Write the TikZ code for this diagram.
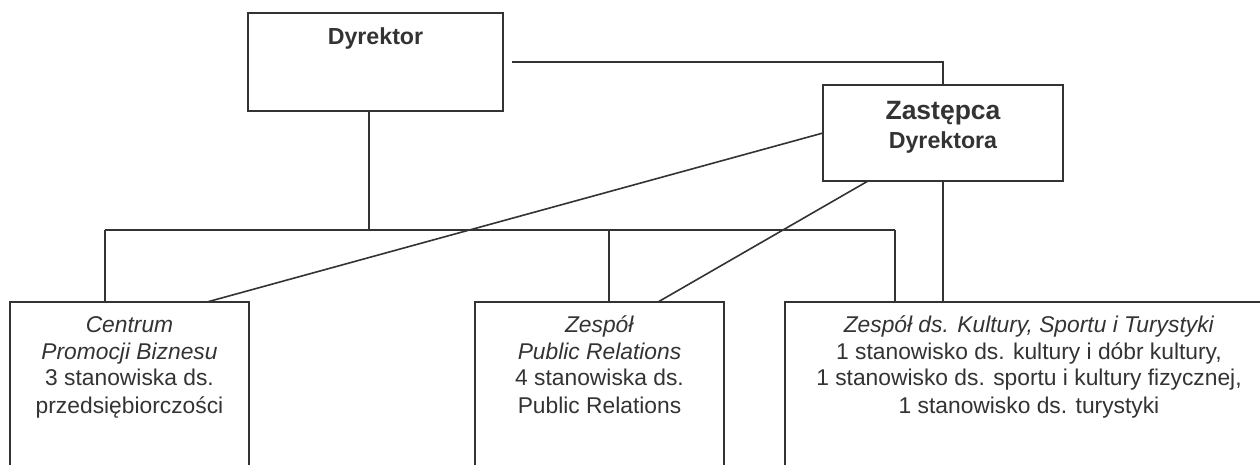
\documentclass[tikz,border=0pt]{standalone}
\usepackage{fontspec}
\setmainfont{Liberation Sans}
\definecolor{ink}{HTML}{333333}
\begin{document}
\begin{tikzpicture}[x=0.5pt,y=-0.5pt,
  box/.style={draw=ink, line width=0.8pt, rectangle, inner sep=0pt, outer sep=0pt},
  lbl/.style={align=center, inner sep=0pt, anchor=base, text=ink,
    font=\fontsize{11.4}{13.5}\selectfont},
  link/.style={draw=ink, line width=0.8pt}]
\useasboundingbox (0,0) rectangle (1260,465);
\fill[white] (0,0) rectangle (1260,465);
\begin{scope}
\clip (0,0) rectangle (1260,465);
% boxes
\node[box, minimum width=127.5pt, minimum height=49pt] (dyr) at (375.5,62) {};
\node[box, minimum width=120pt, minimum height=48pt] (zast) at (943,133) {};
\node[box, minimum width=119.5pt, minimum height=89pt] (cen) at (129.5,391) {};
\node[box, minimum width=124.5pt, minimum height=89pt] (pr) at (599.5,391) {};
\node[box, minimum width=244pt, minimum height=89pt] (kul) at (1029,391) {};
% coordinates
\coordinate (dyrR) at ([xshift=4.5pt]dyr.east);
\coordinate (dyrB) at ([xshift=-3.25pt]dyr.south);
\coordinate (busL) at (105,230);
\coordinate (busM) at (609,230);
\coordinate (busR) at (895,230);
% connectors
\draw[link] (dyrR) -| (zast.north);
\draw[link] (dyrB) -- (dyrB |- busL);
\draw[link] (busL) -- (busR);
\draw[link] (busL) -- (busL |- cen.north);
\draw[link] (busM) -- (busM |- pr.north);
\draw[link] (busR) -- (busR |- kul.north);
\draw[link] (zast.south) -- (zast.south |- kul.north);
\draw[link] (zast.west) -- ([xshift=38.75pt]cen.north);
\draw[link] ([xshift=-37.5pt]zast.south) -- ([xshift=29.25pt]pr.north);
% texts
\node[lbl, font=\bfseries\fontsize{11.6}{13}\selectfont] (tdyr) at (375.5,45) {Dyrektor};
\node[lbl, font=\bfseries\fontsize{13.25}{14.5}\selectfont] (tzast) at (943,149)
  {Zastępca\\{\fontsize{11.6}{14.5}\selectfont Dyrektora}};
\node[lbl] (tcen) at (129.5,413) {\textit{Centrum}\\\textit{Promocji Biznesu}\\3 stanowiska ds.\\przedsiębiorczości};
\node[lbl] (tpr) at (599.5,413) {\textit{Zespół}\\\textit{Public Relations}\\4 stanowiska ds.\\Public Relations};
\node[lbl] (tkul) at (1029,413) {\textit{Zespół ds. Kultury, Sportu i Turystyki}\\1 stanowisko ds. kultury i dóbr kultury,\\1 stanowisko ds. sportu i kultury fizycznej,\\1 stanowisko ds. turystyki};
\end{scope}
\end{tikzpicture}
\end{document}
